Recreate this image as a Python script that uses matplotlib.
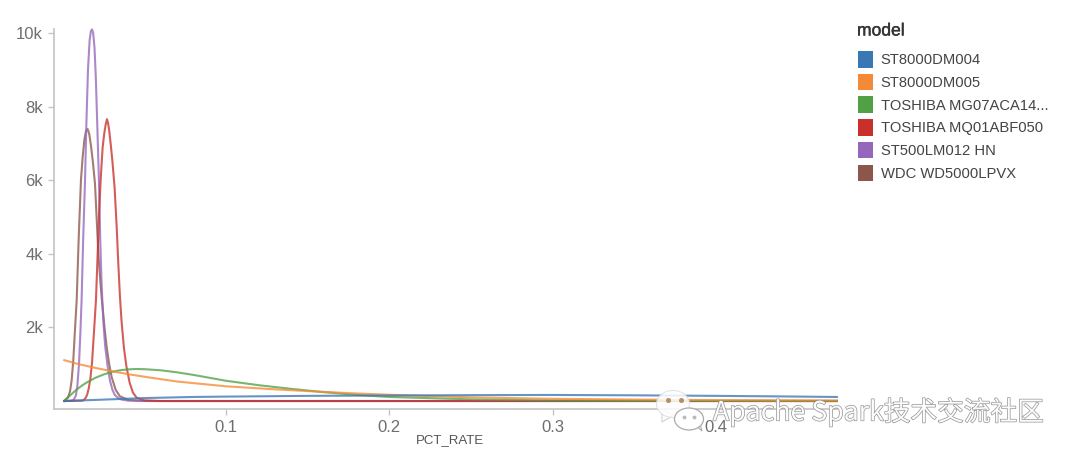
#!/usr/bin/env python3
# density curves of PCT_RATE per disk model
import matplotlib
matplotlib.use('Agg')
import matplotlib.pyplot as plt
import matplotlib.patheffects as pe
from matplotlib.patches import Patch, Ellipse, Polygon
from matplotlib.ticker import FuncFormatter

plt.rcParams['font.family'] = ['Liberation Sans', 'DejaVu Sans']

# values
models = ['ST8000DM004', 'ST8000DM005', 'TOSHIBA MG07ACA14...',
          'TOSHIBA MQ01ABF050', 'ST500LM012 HN', 'WDC WD5000LPVX']
colors = ['#3a78b4', '#f58a36', '#52a045', '#c9302c', '#9467bd', '#8c564b']

blue_x = [0.001, 0.02, 0.05, 0.08, 0.1, 0.15, 0.2, 0.25, 0.3, 0.35, 0.4, 0.44, 0.474]
blue_y = [0, 30, 80, 110, 120, 140, 150, 160, 165, 155, 140, 125, 110]

orange_x = [0.001, 0.01, 0.02, 0.03, 0.04, 0.05, 0.07, 0.1, 0.125, 0.15, 0.175, 0.2,
            0.25, 0.3, 0.35, 0.4, 0.474]
orange_y = [1110, 1000, 900, 810, 730, 660, 530, 400, 330, 270, 215, 170, 100, 60, 40, 25, 15]

green_x = [0.001, 0.003, 0.005, 0.0075, 0.01, 0.0125, 0.015, 0.02, 0.025, 0.03, 0.035, 0.04,
           0.045, 0.05, 0.06, 0.07, 0.08, 0.09, 0.1, 0.12, 0.14, 0.16, 0.18, 0.2, 0.25, 0.3,
           0.35, 0.474]
green_y = [10, 90, 170, 270, 360, 440, 510, 630, 720, 790, 835, 860, 870, 865, 835, 780, 710,
           630, 550, 430, 330, 240, 165, 110, 45, 15, 5, 0]

red_x = [0.001, 0.012, 0.013, 0.014, 0.015, 0.016, 0.017, 0.018, 0.019, 0.0204, 0.0215, 0.0225,
         0.0235, 0.0245, 0.0255, 0.0263, 0.0271, 0.0278, 0.0285, 0.0295, 0.0305, 0.0318, 0.033,
         0.034, 0.035, 0.036, 0.0375, 0.039, 0.041, 0.043, 0.0453, 0.05, 0.06, 0.474]
red_y = [0, 10, 30, 80, 170, 350, 620, 1050, 1750, 2750, 4100, 5300, 6200, 6900, 7280, 7500,
         7660, 7560, 7350, 6950, 6500, 5800, 4800, 3800, 2900, 2200, 1450, 950, 500, 230, 90,
         20, 0, 0]

purple_x = [0.001, 0.006, 0.007, 0.0081, 0.009, 0.01, 0.0108, 0.0116, 0.0125, 0.0137, 0.0145,
            0.0155, 0.0165, 0.0173, 0.018, 0.0187, 0.0195, 0.0203, 0.0212, 0.0222, 0.023, 0.0239,
            0.025, 0.026, 0.0275, 0.029, 0.0305, 0.032, 0.034, 0.036, 0.04, 0.05, 0.474]
purple_y = [0, 10, 50, 150, 420, 1000, 1800, 2750, 4300, 6000, 7500, 9000, 9800, 10050, 10100,
            10000, 9600, 8800, 7500, 6000, 4400, 3100, 2100, 1500, 950, 550, 300, 160, 80, 40,
            10, 0, 0]

brown_x = [0.001, 0.0033, 0.0045, 0.0055, 0.0065, 0.0075, 0.0086, 0.0098, 0.0112, 0.0122, 0.0133,
           0.0143, 0.0153, 0.0163, 0.0173, 0.0185, 0.0198, 0.021, 0.022, 0.023, 0.024, 0.0255,
           0.027, 0.0285, 0.03, 0.0325, 0.035, 0.04, 0.05, 0.474]
brown_y = [0, 100, 260, 560, 1100, 1900, 2750, 4400, 6000, 6600, 7100, 7340, 7390, 7250, 6950,
           6500, 5900, 4800, 3900, 3300, 2750, 2050, 1450, 1000, 650, 300, 130, 30, 0, 0]

curves = [(blue_x, blue_y), (orange_x, orange_y), (green_x, green_y),
          (red_x, red_y), (purple_x, purple_y), (brown_x, brown_y)]

x_ticks = [0.1, 0.2, 0.3, 0.4]
y_ticks = [2000, 4000, 6000, 8000, 10000]

W, H = 1080, 462
fig = plt.figure(figsize=(W / 100, H / 100), dpi=100)
ax = fig.add_axes([54 / W, 1 - 409 / H, (837 - 54) / W, (409 - 29) / H])

# last model first, the blue and orange lines lie on top at the baseline
for (xs, ys), c in reversed(list(zip(curves, colors))):
    ax.plot(xs, ys, color=c, lw=1.5, alpha=0.78, solid_joinstyle='round', clip_on=False)

ax.set_xlim(-0.0053, 0.4741)
ax.set_ylim(-217, 10109)
for s in ['top', 'right']:
    ax.spines[s].set_visible(False)
for s in ['left', 'bottom']:
    ax.spines[s].set_color('#c4c4c4')
    ax.spines[s].set_linewidth(1.2)
ax.set_xticks(x_ticks)
ax.set_yticks(y_ticks)
ax.yaxis.set_major_formatter(FuncFormatter(lambda v, p: '%dk' % (v / 1000)))
ax.tick_params(axis='both', length=4, width=1, color='#c4c4c4', labelcolor='#6e6e6e',
               labelsize=12, pad=4)
ax.set_xlabel('PCT_RATE', fontsize=9.5, color='#555555', va='top')
ax.xaxis.set_label_coords((450 - 54) / (837 - 54), -(434 - 409) / (409 - 29), ax.transAxes)

# legend, title placed by hand since the gap under it is wider than the rows
handles = [Patch(facecolor=c, edgecolor='none') for c in colors]
fig.legend(handles, models, loc='upper left', bbox_to_anchor=(858 / W, 1 - 51 / H),
           frameon=False, fontsize=10.6, labelcolor='#444444',
           handlelength=1.0, handleheight=1.35, handletextpad=0.55,
           labelspacing=0.42, borderpad=0, borderaxespad=0)
fig.text(857 / W, 1 - 31 / H, 'model', fontsize=12.6, color='#333333', va='center',
         path_effects=[pe.withStroke(linewidth=0.3, foreground='#333333')])

# watermark on top, drawn in pixel coordinates
over = fig.add_axes([0, 0, 1, 1], facecolor='none')
over.set_xlim(0, W)
over.set_ylim(H, 0)
over.axis('off')
over.add_patch(Polygon([[662, 410], [662, 422], [674, 415]], fc='white', ec='#cccccc', lw=0.8, alpha=0.9))
over.add_patch(Ellipse((673, 404), 33, 27, fc='white', ec='#dddddd', lw=0.8, alpha=0.85))
over.add_patch(Polygon([[694, 424], [702, 431], [699, 420]], fc='white', ec='#aaaaaa', lw=0.8))
over.add_patch(Ellipse((689, 419), 29, 22, fc='white', ec='#aaaaaa', lw=0.9))
over.plot([668, 681], [400, 400], ls='none', marker='o', ms=2.6, color='#b98f60')
over.plot([684, 694], [417, 417], ls='none', marker='o', ms=1.8, color='#bbbbbb')
over.text(713, 412, 'Apache Spark技术交流社区', fontsize=19.2, color='#ffffff', va='center',
          ha='left', family=['Noto Sans CJK SC', 'DejaVu Sans'], alpha=0.95,
          path_effects=[pe.withStroke(linewidth=1.0, foreground='#8f8f8f')])

fig.savefig('out.png', dpi=100)
